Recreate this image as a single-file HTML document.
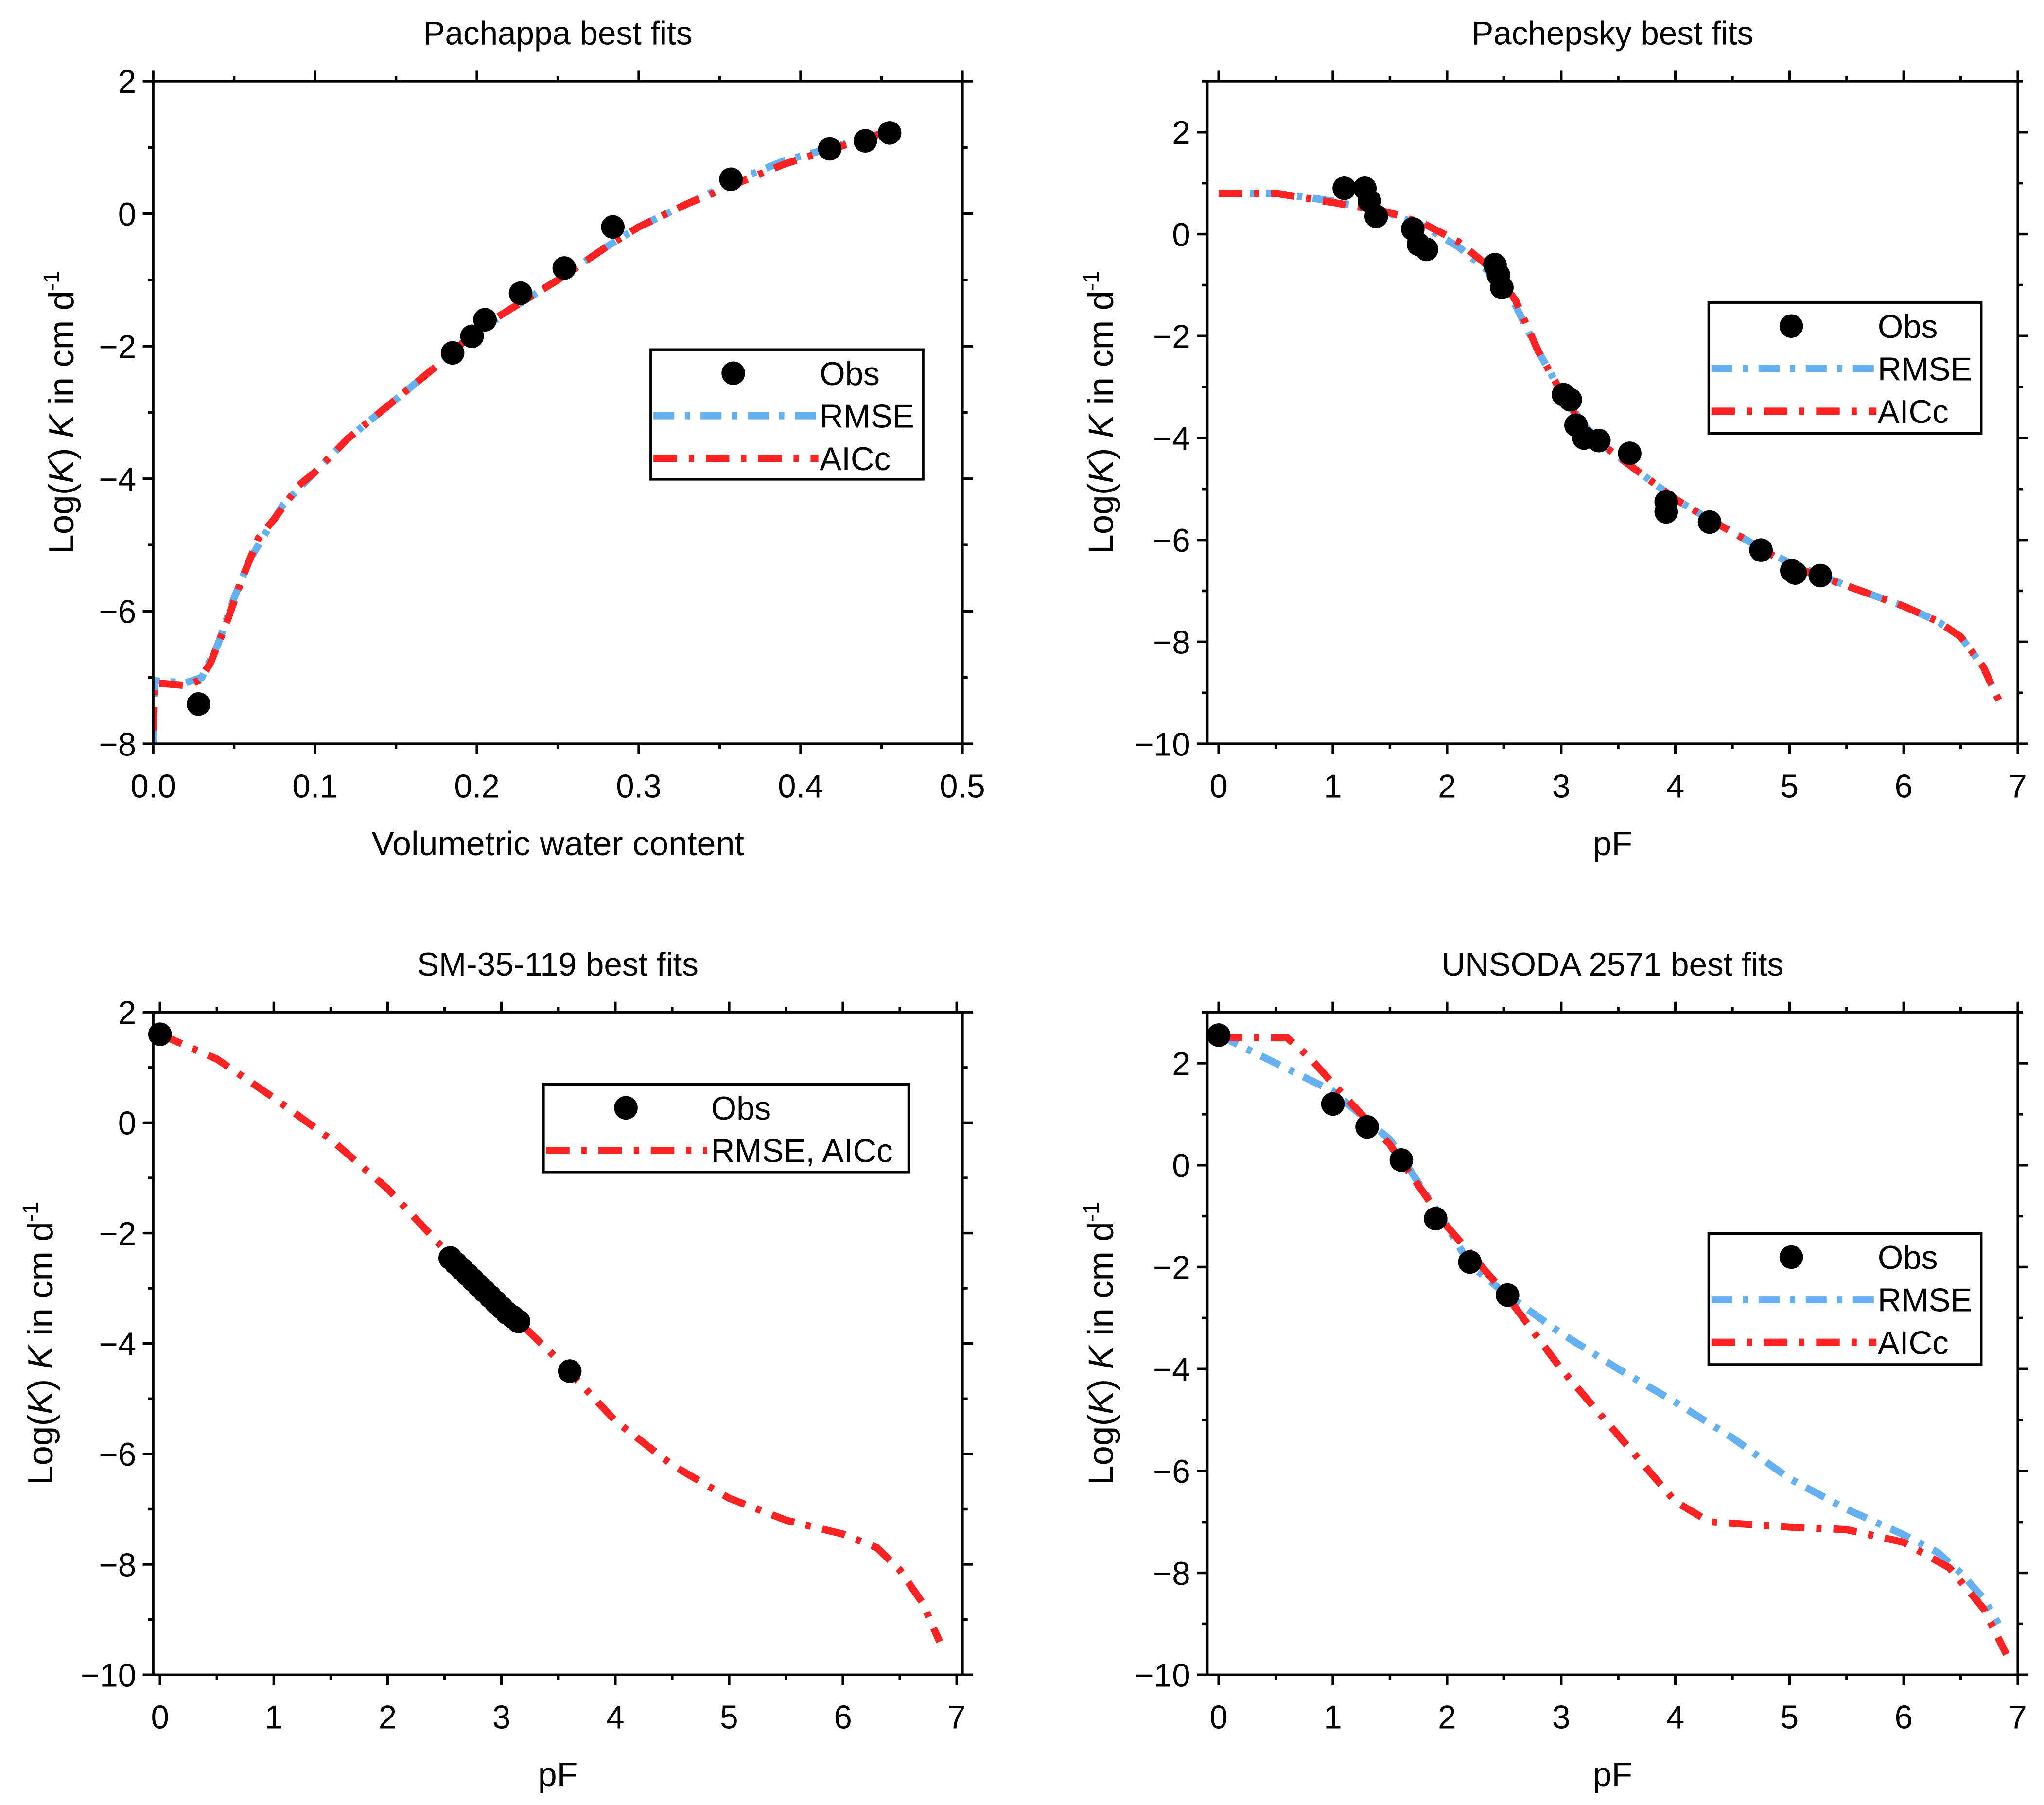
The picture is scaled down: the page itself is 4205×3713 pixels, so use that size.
<!DOCTYPE html>
<html><head><meta charset="utf-8"><style>
html,body{margin:0;padding:0;background:#fff}
svg{display:block}
text{font-family:"Liberation Sans",sans-serif;fill:#000}
</style></head><body>
<svg id="fig" xmlns="http://www.w3.org/2000/svg" width="4205" height="3713" viewBox="0 0 1561 1378.4" preserveAspectRatio="none"></svg>
<script>
// ---- Data ----
const p1ObsX=[0.028,0.185,0.197,0.205,0.227,0.254,0.284,0.357,0.418,0.44,0.455];
const p1ObsY=[-7.4,-2.1,-1.85,-1.6,-1.2,-0.82,-0.2,0.52,0.98,1.1,1.22];
const p1RmseX=[0,0.001,0.02,0.03,0.04,0.05,0.06,0.07,0.08,0.1,0.12,0.15,0.18,0.2,0.22,0.25,0.28,0.3,0.33,0.36,0.39,0.42,0.455];
const p1RmseY=[-8,-7.05,-7.08,-7.0,-6.5,-5.8,-5.2,-4.8,-4.4,-3.9,-3.4,-2.8,-2.2,-1.8,-1.45,-1.0,-0.5,-0.2,0.15,0.5,0.8,1.0,1.25];
const p1AicX=[0,0.001,0.02,0.028,0.035,0.045,0.055,0.065,0.075,0.09,0.1,0.12,0.15,0.18,0.2,0.22,0.25,0.28,0.3,0.33,0.36,0.39,0.42,0.455];
const p1AicY=[-7.8,-7.08,-7.12,-7.05,-6.8,-6.2,-5.5,-4.9,-4.6,-4.1,-3.9,-3.4,-2.8,-2.2,-1.75,-1.45,-1.0,-0.5,-0.2,0.15,0.45,0.75,0.98,1.25];

const p2ObsX=[1.1,1.28,1.32,1.38,1.7,1.75,1.82,2.42,2.45,2.48,3.02,3.08,3.13,3.2,3.33,3.6,3.92,3.92,4.3,4.75,5.02,5.05,5.27];
const p2ObsY=[0.9,0.9,0.65,0.35,0.1,-0.2,-0.3,-0.6,-0.8,-1.05,-3.15,-3.25,-3.75,-4.0,-4.05,-4.3,-5.25,-5.45,-5.65,-6.2,-6.6,-6.65,-6.7];
const p2CurveX=[0,0.5,1,1.5,1.8,2.1,2.4,2.6,2.8,3.0,3.2,3.4,3.7,4.0,4.3,4.7,5.0,5.5,6.0,6.3,6.5,6.7,6.8,6.87];
const p2RmseY=[0.8,0.8,0.65,0.4,0.15,-0.25,-0.8,-1.4,-2.3,-3.1,-3.75,-4.2,-4.7,-5.2,-5.6,-6.1,-6.45,-6.9,-7.3,-7.6,-7.9,-8.5,-9.0,-9.3];
const p2AicY=[0.8,0.8,0.62,0.42,0.2,-0.15,-0.7,-1.3,-2.3,-3.1,-3.8,-4.2,-4.7,-5.2,-5.6,-6.1,-6.5,-6.9,-7.3,-7.6,-7.9,-8.5,-9.0,-9.3];

const p3ObsX=[0,2.55,2.6,2.65,2.7,2.75,2.8,2.85,2.9,2.95,3.0,3.05,3.1,3.15,3.6];
const p3ObsY=[1.6,-2.45,-2.55,-2.65,-2.75,-2.85,-2.95,-3.05,-3.15,-3.25,-3.35,-3.45,-3.52,-3.6,-4.5];
const p3CurveX=[0,0.5,1,1.5,2,2.5,3,3.5,4,4.5,5,5.5,6,6.3,6.5,6.7,6.85];
const p3CurveY=[1.6,1.15,0.45,-0.3,-1.2,-2.3,-3.3,-4.3,-5.4,-6.2,-6.8,-7.2,-7.45,-7.7,-8.1,-8.7,-9.4];

const p4ObsX=[0,1.0,1.3,1.6,1.9,2.2,2.53];
const p4ObsY=[2.55,1.2,0.75,0.1,-1.05,-1.9,-2.55];
const p4RmseX=[0,0.5,1.0,1.5,2.0,2.2,2.5,3,3.5,4,4.5,5,5.5,6,6.3,6.5,6.7,6.83];
const p4RmseY=[2.55,2.0,1.45,0.5,-1.2,-1.95,-2.5,-3.3,-4.0,-4.65,-5.35,-6.15,-6.75,-7.25,-7.6,-8.0,-8.5,-9.0];
const p4AicX=[0,0.6,0.8,1,1.5,2,2.5,3,3.5,4,4.3,5,5.5,6,6.4,6.7,6.9];
const p4AicY=[2.5,2.5,2.1,1.6,0.4,-1.2,-2.5,-4.0,-5.3,-6.6,-7.0,-7.1,-7.15,-7.4,-7.9,-8.7,-9.6];

const xTicks1=[0,0.1,0.2,0.3,0.4,0.5], xTickLabels1=["0.0","0.1","0.2","0.3","0.4","0.5"];
const yTicks1=[-8,-6,-4,-2,0,2];
const xTicksPF=[0,1,2,3,4,5,6,7];
const yTicksPF=[-10,-8,-6,-4,-2,0,2];

const NS="http://www.w3.org/2000/svg";
const svg=document.getElementById('fig');
function el(tag,attrs,parent){const e=document.createElementNS(NS,tag);for(const k in attrs)e.setAttribute(k,attrs[k]);(parent||svg).appendChild(e);return e;}
const BLUE="#64b0f0",RED="#ff2222";
const RMSE_DASH="16 8 4 8", AIC_DASH="18 9 4 9";

function panel(cfg){
  const g=el('g',{});
  
  
  const {L,R,T,B,xmin,xmax,ymin,ymax}=cfg;
  const sx=v=>L+(v-xmin)/(xmax-xmin)*(R-L);
  const sy=v=>B-(v-ymin)/(ymax-ymin)*(B-T);
  const tk=el('g',{stroke:'#000','stroke-width':2},g);
  
  
  for(let v=cfg.xmin0;v<=xmax+1e-9;v+=cfg.xminor){
    const major=Math.abs(v/cfg.xmajor-Math.round(v/cfg.xmajor))<1e-6;
    const len=major?8:4;const x=sx(v);
    el('line',{x1:x,x2:x,y1:B,y2:B+len},tk);el('line',{x1:x,x2:x,y1:T,y2:T-len},tk);
  }
  for(let v=ymin;v<=ymax+1e-9;v+=1){
    const major=(Math.round(v)%2===0);const len=major?8:4;const y=sy(v);
    el('line',{x1:L,x2:L-len,y1:y,y2:y},tk);el('line',{x1:R,x2:R+len,y1:y,y2:y},tk);
  }
  cfg.xt.forEach((v,i)=>{const t=el('text',{x:sx(v),y:B+41,'font-size':25,'text-anchor':'middle'},g);t.textContent=cfg.xtl?cfg.xtl[i]:String(v);
    });
  cfg.yt.forEach(v=>{const t=el('text',{x:L-13,y:sy(v)+9,'font-size':25,'text-anchor':'end'},g);t.textContent=(v<0?'\u2212'+(-v):String(v));
    });
  const clipId='c'+cfg.name;
  const cp=el('clipPath',{id:clipId},g);el('rect',{x:L,y:T-4,width:R-L,height:B-T+8},cp);
  const plot=el('g',{'clip-path':`url(#${clipId})`},g);
  cfg.lines.forEach(ln=>{
    const d=ln.x.map((x,i)=>(i?'L':'M')+sx(x).toFixed(1)+','+sy(ln.y[i]).toFixed(1)).join('');
    const p=el('path',{d,fill:'none',stroke:ln.c,'stroke-width':5.5,'stroke-dasharray':ln.dash,'stroke-linecap':'butt','stroke-linejoin':'round'},plot);
    
    
  });
  cfg.obsX.forEach((x,i)=>{
    const c=el('circle',{cx:sx(x),cy:sy(cfg.obsY[i]),r:9,fill:'#000'},g);
    
    
  });
  const fr=el('rect',{x:L,y:T,width:R-L,height:B-T,fill:'none',stroke:'#000','stroke-width':2},g);
  
  const ti=el('text',{x:(L+R)/2,y:T-28,'font-size':25,'text-anchor':'middle'},g);ti.textContent=cfg.title;
  
  const xl=el('text',{x:(L+R)/2,y:B+85,'font-size':26,'text-anchor':'middle'},g);xl.textContent=cfg.xlabel;
  
  const yl=el('text',{transform:`translate(${cfg.ylx},${(T+B)/2}) rotate(-90)`,'font-size':27,'text-anchor':'middle'},g);
  yl.innerHTML='Log(<tspan font-style="italic">K</tspan>) <tspan font-style="italic">K</tspan> in cm d<tspan font-size="17" dy="-11">-1</tspan>';
  
  const lg=cfg.legend;const lgG=el('g',{},g);
  
  el('rect',{x:lg.x,y:lg.y,width:lg.w,height:lg.h,fill:'#fff',stroke:'#000','stroke-width':2},lgG);
  lg.items.forEach((it,i)=>{
    const cy=lg.y+18+i*32.5;
    if(it.type==='obs'){el('circle',{cx:lg.x+lg.sym,cy,r:9,fill:'#000'},lgG);}
    else{el('line',{x1:lg.x+2,x2:lg.x+lg.lx,y1:cy,y2:cy,stroke:it.c,'stroke-width':5.5,'stroke-dasharray':it.dash},lgG);}
    const t=el('text',{x:lg.x+lg.tx,y:cy+9,'font-size':25},lgG);t.textContent=it.label;
    
  });
}
const leg3=[{type:'obs',label:'Obs'},{type:'line',c:BLUE,dash:RMSE_DASH,label:'RMSE'},{type:'line',c:RED,dash:AIC_DASH,label:'AICc'}];
panel({name:'pachappa-panel',title:'Pachappa best fits',xlabel:'Volumetric water content',ylx:56,
  L:117,R:735,T:62,B:568,xmin:0,xmax:0.5,ymin:-8,ymax:2,xmin0:0,xminor:0.05,xmajor:0.1,
  xt:xTicks1,xtl:xTickLabels1,yt:yTicks1,obsX:p1ObsX,obsY:p1ObsY,
  lines:[{x:p1RmseX,y:p1RmseY,c:BLUE,dash:RMSE_DASH,name:'rmse-line'},{x:p1AicX,y:p1AicY,c:RED,dash:AIC_DASH,name:'aicc-line'}],
  legend:{x:497,y:267,w:208,h:99,sym:63,lx:128,tx:129,items:leg3}});
panel({name:'pachepsky-panel',title:'Pachepsky best fits',xlabel:'pF',ylx:850,
  L:922,R:1541,T:62,B:568,xmin:-0.1,xmax:7.0,ymin:-10,ymax:3,xmin0:0,xminor:0.5,xmajor:1,
  xt:xTicksPF,yt:yTicksPF,obsX:p2ObsX,obsY:p2ObsY,
  lines:[{x:p2CurveX,y:p2RmseY,c:BLUE,dash:RMSE_DASH,name:'rmse-line'},{x:p2CurveX,y:p2AicY,c:RED,dash:AIC_DASH,name:'aicc-line'}],
  legend:{x:1305,y:231,w:208,h:100,sym:63,lx:128,tx:129,items:leg3}});
panel({name:'sm-35-119-panel',title:'SM-35-119 best fits',xlabel:'pF',ylx:40,
  L:117,R:735,T:773,B:1279,xmin:-0.06,xmax:7.05,ymin:-10,ymax:2,xmin0:0,xminor:0.5,xmajor:1,
  xt:xTicksPF,yt:yTicksPF.filter(v=>v<=2),obsX:p3ObsX,obsY:p3ObsY,
  lines:[{x:p3CurveX,y:p3CurveY,c:RED,dash:AIC_DASH,name:'rmse-aicc-line'}],
  legend:{x:415,y:828,w:279,h:67,sym:63,lx:125,tx:128,items:[{type:'obs',label:'Obs'},{type:'line',c:RED,dash:AIC_DASH,label:'RMSE, AICc'}]}});
panel({name:'unsoda-2571-panel',title:'UNSODA 2571 best fits',xlabel:'pF',ylx:850,
  L:922,R:1541,T:773,B:1279,xmin:-0.1,xmax:7.0,ymin:-10,ymax:3,xmin0:0,xminor:0.5,xmajor:1,
  xt:xTicksPF,yt:yTicksPF,obsX:p4ObsX,obsY:p4ObsY,
  lines:[{x:p4RmseX,y:p4RmseY,c:BLUE,dash:RMSE_DASH,name:'rmse-line'},{x:p4AicX,y:p4AicY,c:RED,dash:AIC_DASH,name:'aicc-line'}],
  legend:{x:1305,y:942,w:208,h:100,sym:63,lx:128,tx:129,items:leg3}});
</script>
</body></html>
